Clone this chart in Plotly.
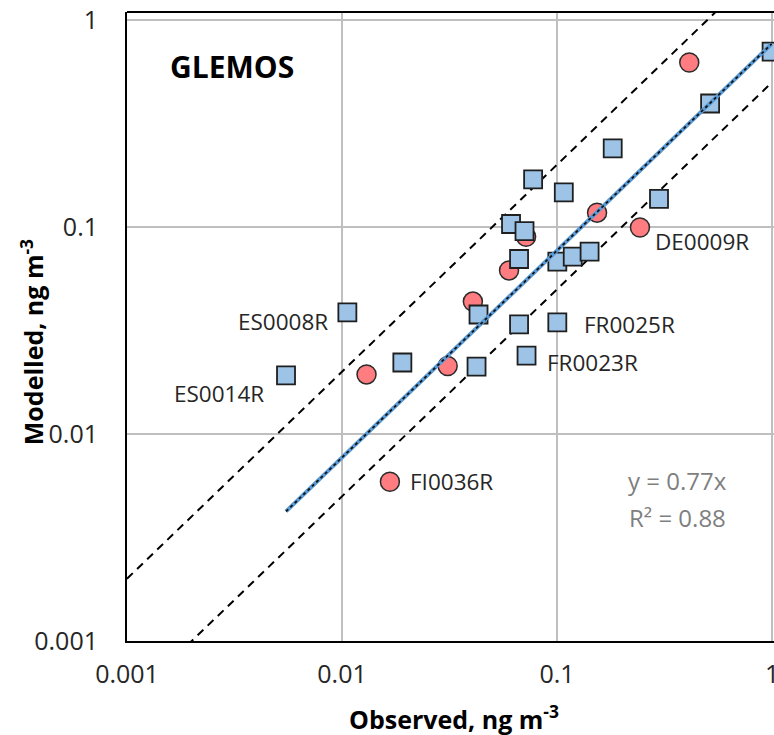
import numpy as np
import plotly.graph_objects as go

# ---- data ----
circ_x = [0.0130, 0.0167, 0.0310, 0.0406, 0.0598, 0.0718, 0.1535, 0.243, 0.412]
circ_y = [0.0194, 0.00588, 0.0213, 0.0436, 0.0617, 0.0897, 0.1173, 0.0994, 0.623]

sq_x = [0.00549, 0.01059, 0.01908, 0.04223, 0.04314, 0.06659, 0.07213, 0.1003,
        0.06659, 0.0611, 0.07058, 0.1003, 0.1183, 0.1417, 0.0774, 0.1075,
        0.1815, 0.298, 0.515, 0.995]
sq_y = [0.01918, 0.0387, 0.02215, 0.02114, 0.03778, 0.03388, 0.02389, 0.03465,
        0.07003, 0.1034, 0.0956, 0.0681, 0.0719, 0.076, 0.170, 0.1471,
        0.240, 0.1366, 0.395, 0.703]

trend_slope = 0.77
r_squared = 0.88
factor_lines = [2.0, 0.5]
ref_x = [0.001, 1.0]

tick_vals = [0.001, 0.01, 0.1, 1]
tick_text = ["0.001", "0.01", "0.1", "1"]

# station labels: (name, series, index)
station_labels = [
    ("ES0008R", "sq", 1),
    ("ES0014R", "sq", 0),
    ("FI0036R", "circ", 1),
    ("FR0025R", "sq", 7),
    ("FR0023R", "sq", 6),
    ("DE0009R", "circ", 7),
]

# ---- figure ----
FONT = "Open Sans"
TXT = "#262626"
fig = go.Figure()

for f in factor_lines:
    fig.add_trace(go.Scatter(
        x=ref_x, y=[f * v for v in ref_x], mode="lines",
        line=dict(color="black", width=2, dash="8px,6px"), hoverinfo="skip"))

fig.add_trace(go.Scatter(
    x=circ_x, y=circ_y, mode="markers",
    marker=dict(symbol="circle", size=19, color="#FF7C80",
                line=dict(color="#2b2b2b", width=1.5))))

fig.add_trace(go.Scatter(
    x=sq_x, y=sq_y, mode="markers",
    marker=dict(symbol="square", size=18, color="#9DC3E6",
                line=dict(color="#1f1f1f", width=1.8))))

all_x = circ_x + sq_x
tx = [min(all_x), max(all_x)]
ty = [trend_slope * v for v in tx]
fig.add_trace(go.Scatter(x=tx, y=ty, mode="lines",
                         line=dict(color="#5B9BD5", width=4), hoverinfo="skip"))
fig.add_trace(go.Scatter(x=tx, y=ty, mode="lines",
                         line=dict(color="#111111", width=1.8, dash="dot"), hoverinfo="skip"))

# label offsets (style)
offsets = {
    "ES0008R": ("right", -17, -9),
    "ES0014R": ("right", -20, -18),
    "FI0036R": ("left", 18, 0),
    "FR0025R": ("left", 25, -2),
    "FR0023R": ("left", 18, -7),
    "DE0009R": ("left", 13, -14),
}
annotations = []
for name, ser, i in station_labels:
    px_ = (sq_x if ser == "sq" else circ_x)[i]
    py_ = (sq_y if ser == "sq" else circ_y)[i]
    anc, dx, dy = offsets[name]
    annotations.append(dict(
        x=np.log10(px_), y=np.log10(py_), xref="x", yref="y", text=name,
        showarrow=False, xanchor=anc, yanchor="middle", xshift=dx, yshift=dy,
        font=dict(family=FONT, size=22.5, color=TXT)))

annotations += [
    dict(x=0.0634, y=0.9126, xref="paper", yref="paper", text="<b>GLEMOS</b>",
         showarrow=False, xanchor="left", yanchor="middle",
         font=dict(family=FONT, size=30, color="black")),
    dict(x=0.8516, y=0.2544, xref="paper", yref="paper", text=f"y = {trend_slope}x",
         showarrow=False, xanchor="center", yanchor="middle",
         font=dict(family=FONT, size=24, color="#7F7F7F")),
    dict(x=0.8516, y=0.197, xref="paper", yref="paper", text=f"R² = {r_squared}",
         showarrow=False, xanchor="center", yanchor="middle",
         font=dict(family=FONT, size=24, color="#7F7F7F")),
    dict(x=0.505, y=-0.122, xref="paper", yref="paper",
         text="<b>Observed, ng m<sup>-3</sup></b>",
         showarrow=False, xanchor="center", yanchor="middle",
         font=dict(family=FONT, size=25, color="black")),
    dict(x=-0.1468, y=0.475, xref="paper", yref="paper",
         text="<b>Modelled, ng m<sup>-3</sup></b>", textangle=-90,
         showarrow=False, xanchor="center", yanchor="middle",
         font=dict(family=FONT, size=25, color="black")),
]

axis_common = dict(
    type="log", tickvals=tick_vals, ticktext=tick_text,
    showgrid=True, gridcolor="#BFBFBF", gridwidth=1.5,
    showline=True, linecolor="black", linewidth=2, zeroline=False,
    ticks="", tickfont=dict(family=FONT, size=25, color=TXT),
    ticklabeloverflow="allow", automargin=False,
)

fig.update_layout(
    width=774, height=735,
    margin=dict(l=127, r=0, t=12, b=94, autoexpand=False),
    paper_bgcolor="white", plot_bgcolor="white",
    showlegend=False,
    xaxis=dict(range=[-3, 0.009], ticklabelstandoff=10, **axis_common),
    yaxis=dict(range=[-3, 0.0386], ticklabelstandoff=22, **axis_common),
    annotations=annotations,
    shapes=[dict(type="line", xref="paper", yref="paper", x0=0, x1=1, y0=1, y1=1,
                 line=dict(color="black", width=2))],
)

fig.write_html("out.html")
